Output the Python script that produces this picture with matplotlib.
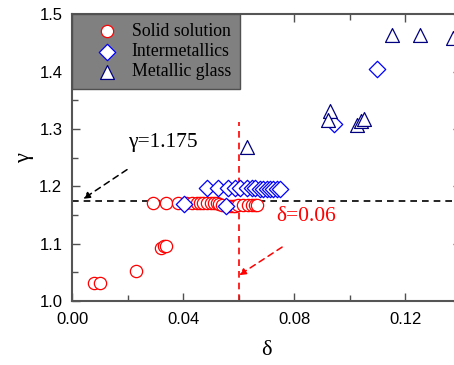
import matplotlib
matplotlib.use("Agg")
import matplotlib.pyplot as plt
from matplotlib.ticker import MultipleLocator, FormatStrFormatter

# ---- data ----
ss_delta = [0.008, 0.010, 0.023, 0.032, 0.033, 0.034,
            0.029, 0.034, 0.038, 0.041, 0.043, 0.045, 0.046, 0.047, 0.0486,
            0.050, 0.051, 0.052, 0.053, 0.054, 0.0558, 0.057, 0.058, 0.0587,
            0.0598, 0.0616, 0.0634, 0.0648, 0.0659, 0.0666]
ss_gamma = [1.032, 1.032, 1.053, 1.093, 1.096, 1.096,
            1.171, 1.171, 1.171, 1.170, 1.170, 1.170, 1.170, 1.170, 1.170,
            1.170, 1.170, 1.170, 1.169, 1.168, 1.166, 1.165, 1.165, 1.166,
            1.167, 1.167, 1.167, 1.167, 1.167, 1.167]

im_delta = [0.0486, 0.0526, 0.0562, 0.0587, 0.0605, 0.063, 0.0648, 0.0659,
            0.0677, 0.0688, 0.0702, 0.0713, 0.0724, 0.0738, 0.0749,
            0.0403, 0.0553, 0.0944, 0.1097]
im_gamma = [1.197, 1.197, 1.197, 1.197, 1.197, 1.197, 1.197, 1.197,
            1.196, 1.196, 1.196, 1.196, 1.196, 1.196, 1.196,
            1.169, 1.166, 1.309, 1.404]

mg_delta = [0.063, 0.0929, 0.0922, 0.1025, 0.104, 0.105, 0.1151, 0.1253, 0.1371]
mg_gamma = [1.268, 1.332, 1.316, 1.307, 1.313, 1.317, 1.464, 1.464, 1.459]

gamma_crit = 1.175
delta_crit = 0.06

fig = plt.figure(figsize=(4.54, 3.65), dpi=100)
ax = fig.add_axes([0.1586, 0.1753, 0.857, 0.786])

serif = ["Liberation Serif", "DejaVu Serif"]
sans = ["Liberation Sans", "DejaVu Sans"]

ax.axhline(gamma_crit, color="black", ls=(0, (4, 3)), lw=1.2, zorder=1)
ax.plot([delta_crit, delta_crit], [1.0, 1.312], color="red", ls=(0, (4, 3)), lw=1.2, zorder=1)

ax.scatter(ss_delta, ss_gamma, s=78, marker="o", facecolors="white",
           edgecolors="red", linewidths=0.9, zorder=3, label="Solid solution")
ax.scatter(im_delta, im_gamma, s=70, marker="D", facecolors="white",
           edgecolors="#0000FF", linewidths=0.9, zorder=4, label="Intermetallics")
ax.scatter(mg_delta, mg_gamma, s=100, marker="^", facecolors="white",
           edgecolors="#000080", linewidths=0.9, zorder=5, label="Metallic glass")

ax.annotate("", xy=(0.004, 1.178), xytext=(0.0198, 1.229),
            arrowprops=dict(arrowstyle="-|>", color="black", ls=(0, (4, 3)),
                            lw=1.1, mutation_scale=10, shrinkA=0, shrinkB=0))
ax.text(0.0328, 1.276, "\u03b3=1.175", family=serif, fontsize=15.5,
        ha="center", va="center", color="black")

ax.annotate("", xy=(0.0601, 1.045), xytext=(0.0756, 1.094),
            arrowprops=dict(arrowstyle="-|>", color="red", ls=(0, (4, 3)),
                            lw=1.1, mutation_scale=10, shrinkA=0, shrinkB=0))
ax.text(0.0842, 1.148, "\u03b4=0.06", family=serif, fontsize=15.5,
        ha="center", va="center", color="red")

ax.set_xlim(0, 0.14)
ax.set_ylim(1.0, 1.5)
ax.xaxis.set_major_locator(MultipleLocator(0.04))
ax.xaxis.set_minor_locator(MultipleLocator(0.02))
ax.xaxis.set_major_formatter(FormatStrFormatter("%.2f"))
ax.yaxis.set_major_locator(MultipleLocator(0.1))
ax.yaxis.set_minor_locator(MultipleLocator(0.05))
ax.yaxis.set_major_formatter(FormatStrFormatter("%.1f"))

ax.tick_params(which="both", direction="in", top=True, right=True,
               color="#505050", width=1.0)
ax.tick_params(which="major", length=6, labelsize=12)
ax.tick_params(axis="x", which="major", pad=8)
ax.tick_params(axis="y", which="major", pad=7)
ax.tick_params(which="minor", length=4)
for lab in ax.get_xticklabels() + ax.get_yticklabels():
    lab.set_family(sans)
for sp in ax.spines.values():
    sp.set_color("#555555")
    sp.set_linewidth(1.5)

ax.set_xlabel("\u03b4", family=serif, fontsize=16, labelpad=10)
ax.set_ylabel("\u03b3", family=serif, fontsize=16, labelpad=4)

leg = ax.legend(loc="upper left", bbox_to_anchor=(0.0, 1.0), frameon=True,
                fancybox=False, prop={"family": serif, "size": 12.8},
                handletextpad=-0.05, borderpad=0.5, labelspacing=0.18,
                handlelength=2.9, borderaxespad=0.0)
frame = leg.get_frame()
frame.set_facecolor("#808080")
frame.set_edgecolor("#505050")
frame.set_alpha(1.0)
frame.set_linewidth(1.0)

fig.savefig("out.png", dpi=100)
